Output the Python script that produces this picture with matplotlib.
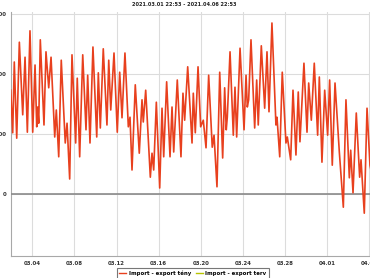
import numpy as np
import pandas as pd
import matplotlib
matplotlib.use('Agg')
import matplotlib.pyplot as plt
import matplotlib.dates as mdates
from matplotlib.lines import Line2D

# --- Dados ---
# dias desde 2021-03-01 00:00 e valor (MW)
dias_teny = [0.95, 1.14, 1.29, 1.52, 1.77, 2.09, 2.31, 2.53, 2.78, 3.04,
             3.26, 3.42, 3.51, 3.61, 3.76, 4.11, 4.30, 4.56, 4.78, 5.13,
             5.28, 5.51, 5.75, 6.13, 6.30, 6.55, 6.77, 7.12, 7.27, 7.50,
             7.79, 8.10, 8.26, 8.48, 8.76, 9.12, 9.27, 9.46, 9.74, 10.09,
             10.26, 10.45, 10.76, 11.07, 11.30, 11.52, 11.80, 12.12, 12.28, 12.47,
             12.78, 13.16, 13.42, 13.54, 13.77, 14.21, 14.37, 14.53, 14.78, 15.10,
             15.32, 15.48, 15.76, 16.08, 16.27, 16.43, 16.77, 17.12, 17.31, 17.47,
             17.76, 18.17, 18.29, 18.48, 18.74, 18.99, 19.24, 19.50, 19.75, 20.09,
             20.26, 20.54, 20.80, 21.08, 21.27, 21.42, 21.52, 21.78, 22.09, 22.25,
             22.41, 22.73, 23.11, 23.30, 23.42, 23.55, 23.77, 24.12, 24.31, 24.46,
             24.75, 25.07, 25.29, 25.48, 25.76, 26.14, 26.24, 26.50, 26.74, 27.09,
             27.22, 27.54, 27.76, 28.04, 28.26, 28.42, 28.80, 29.09, 29.25, 29.50,
             29.78, 30.10, 30.26, 30.51, 30.77, 31.05, 31.24, 31.49, 31.75, 32.16,
             32.54, 32.79, 33.11, 33.24, 33.46, 33.77, 34.09, 34.22, 34.53, 34.79,
             35.07, 35.26]
valor_teny = [1730, 1020, 2200, 930, 2530, 1320, 2280, 1030, 2720, 1030,
              2150, 1120, 1450, 1180, 2570, 1150, 2370, 1770, 2280, 950,
              1400, 620, 2230, 850, 1180, 250, 2320, 850, 1930, 620,
              2320, 1070, 1980, 850, 2450, 950, 2020, 1100, 2420, 1150,
              2230, 1400, 2350, 1030, 2030, 1270, 2350, 1120, 1280, 400,
              1820, 680, 1570, 1200, 1730, 280, 680, 400, 1530, 100,
              1430, 620, 1870, 620, 1450, 700, 1900, 620, 1680, 1230,
              2120, 850, 1680, 1020, 2120, 1120, 1230, 770, 1980, 780,
              980, 120, 2030, 600, 1770, 1070, 1280, 2370, 980, 1780,
              950, 2430, 1070, 1980, 1450, 1570, 2570, 1100, 1900, 1150,
              2470, 1430, 2370, 1370, 2850, 1150, 1280, 620, 2030, 850,
              950, 570, 1730, 650, 1700, 870, 2180, 1030, 1850, 1230,
              2180, 980, 1950, 530, 1730, 980, 1900, 480, 1850, 700,
              -220, 1570, 270, 730, 20, 1350, 280, 570, -320, 1430,
              480, 320]
dias_terv = []
valor_terv = []

titulo = "2021.03.01 22:53 - 2021.04.06 22:53"
rotulos_legenda = ["Import - export tény", "Import - export terv"]

base = pd.Timestamp("2021-03-01 00:00")
t_teny = [base + pd.Timedelta(days=d) for d in dias_teny]
t_terv = [base + pd.Timedelta(days=d) for d in dias_terv]

W, H = 370, 278
fig = plt.figure(figsize=(W / 100, H / 100), dpi=100)
fig.patch.set_facecolor('white')

# eixo se estende além da borda direita (imagem recortada)
x0, x1 = 10.75, 389.8
y_top, y_bot = 12, 256
ax = fig.add_axes([x0 / W, 1 - y_bot / H, (x1 - x0) / W, (y_bot - y_top) / H])

ax.plot(t_teny, valor_teny, color='#e8401e', lw=1.2, zorder=5)
ax.plot(t_terv, valor_terv, color='#b8c400', lw=1.0, zorder=4)
ax.axhline(0, color='#8a8a8a', lw=1.2, zorder=3)

ax.set_xlim(base + pd.Timedelta(hours=22, minutes=53), pd.Timestamp("2021-04-06 22:53"))
ax.set_ylim(-1033, 3033)
ax.set_yticks([0, 1000, 2000, 3000])
ax.set_xticks(pd.date_range("2021-03-04", periods=9, freq="4D"))
ax.xaxis.set_major_formatter(mdates.DateFormatter("%m.%d"))

ax.grid(True, color='#dcdcdc', lw=0.8, zorder=0)
ax.tick_params(length=0, labelsize=3.9, labelcolor='#333333')
ax.tick_params(axis='y', pad=3.2)
ax.tick_params(axis='x', pad=3.5)
for lbl in ax.get_xticklabels() + ax.get_yticklabels():
    lbl.set_fontweight('bold')

for s in ['top', 'right']:
    ax.spines[s].set_visible(False)
for s in ['left', 'bottom']:
    ax.spines[s].set_color('#a8a8a8')
    ax.spines[s].set_linewidth(0.8)

fig.text(184.5 / W, 1 - 4 / H, titulo, ha='center', va='center',
         fontsize=3.6, fontweight='bold', color='#222222')

handles = [Line2D([], [], color='#e8401e', lw=1.0),
           Line2D([], [], color='#b8c400', lw=1.0)]
leg = fig.legend(handles, rotulos_legenda, loc='upper left',
                 bbox_to_anchor=(116.7 / W, 1 - 267.7 / H), ncol=2,
                 prop={'size': 3.9, 'weight': 'bold'}, frameon=True, fancybox=False,
                 edgecolor='#555555', borderpad=0.5, handlelength=1.3,
                 handletextpad=0.5, columnspacing=0.8, borderaxespad=0)
leg.get_frame().set_linewidth(0.8)

fig.savefig("out.png", dpi=100)
